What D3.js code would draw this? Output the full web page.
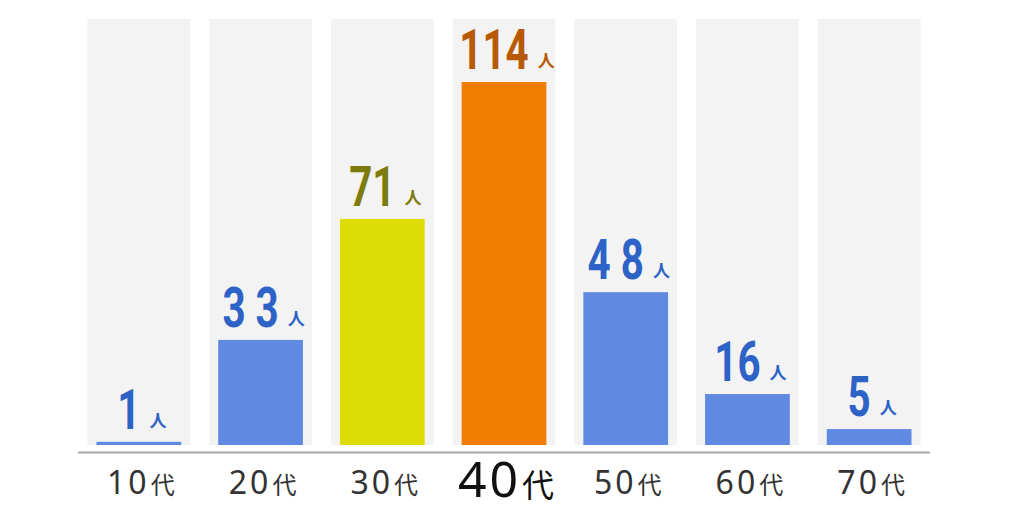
<!DOCTYPE html>
<html>
  <head>
    <meta charset="utf-8">
    <title>年代別</title>
    <style>
      body { margin: 0; background: #fff; }
    </style>
  </head>
  <body>
    <div id="container"></div>
    <script src="https://cdn.jsdelivr.net/npm/d3@7"></script>
    <script>

      // DATA
      var ages = ["10", "20", "30", "40", "50", "60", "70"];
      var counts = [1, 33, 71, 114, 48, 16, 5];

      var barColor = { "30": "#dcdc06", "40": "#f07d00" };
      var textColor = { "30": "#7d7b0c", "40": "#b85a05" };

      var width = 1024, height = 512;
      var baseY = 445;

      var svg = d3.select("#container")
        .append("svg")
        .attr("width", width)
        .attr("height", height);

      // SCALES
      var x = d3.scaleBand()
        .domain(ages)
        .range([78, 930])
        .paddingInner(0.156)
        .paddingOuter(0.078);

      var y = d3.scaleLinear()
        .domain([0, 114])
        .range([baseY, 82]);

      var data = ages.map((a, i) => ({ age: a, n: counts[i] }));

      // GRAY BACKGROUND COLUMNS
      svg.selectAll(".col")
        .data(data)
        .enter()
        .append("rect")
        .attr("x", d => x(d.age))
        .attr("y", 19)
        .attr("width", x.bandwidth())
        .attr("height", baseY - 19)
        .attr("fill", "#f3f3f3");

      // BARS
      var inset = 9;
      svg.selectAll(".bar")
        .data(data)
        .enter()
        .append("rect")
        .attr("x", d => x(d.age) + inset)
        .attr("y", d => y(d.n))
        .attr("width", x.bandwidth() - inset * 2)
        .attr("height", d => baseY - y(d.n))
        .attr("fill", d => barColor[d.age] || "#6089e2");

      // VALUE LABELS (condensed digits + small 人)
      var sx = 0.72, gap = 9;
      data.forEach(d => {
        // the "1" glyph has wide side bearings, so tighten those numbers
        var ls = String(d.n).indexOf("1") >= 0 ? 0 : 14;
        var cx = x(d.age) + x.bandwidth() / 2 + 3;
        var ty = y(d.n) - 13;
        var col = textColor[d.age] || "#2d62c6";
        var g = svg.append("g");
        var num = g.append("text")
          .attr("fill", col)
          .style("font-family", "Roboto, sans-serif")
          .style("font-weight", "bold")
          .style("font-size", "56px")
          .style("letter-spacing", ls + "px")
          .text(d.n);
        var unit = g.append("text")
          .attr("fill", col)
          .style("font-family", "'Noto Sans CJK JP', sans-serif")
          .style("font-weight", "bold")
          .style("font-size", "17px")
          .text("人");
        var nw = (num.node().getComputedTextLength() - ls) * sx;
        var uw = unit.node().getComputedTextLength();
        var left = cx - (nw + gap + uw) / 2;
        num.attr("transform", "translate(" + left + "," + ty + ") scale(" + sx + ",1)");
        unit.attr("x", left + nw + gap).attr("y", ty - 2);
      });

      // BASELINE
      svg.append("line")
        .attr("x1", x.range()[0])
        .attr("x2", x.range()[1])
        .attr("y1", 452.5)
        .attr("y2", 452.5)
        .attr("stroke", "#aaaaaa")
        .attr("stroke-width", 2);

      // CATEGORY LABELS
      var cats = svg.selectAll(".cat")
        .data(data)
        .enter()
        .append("text")
        .attr("x", d => x(d.age) + x.bandwidth() / 2 + 2)
        .attr("y", d => d.age === "40" ? 497 : 494)
        .attr("text-anchor", "middle")
        .attr("fill", d => d.age === "40" ? "#111" : "#333")
        .style("font-family", "'Noto Sans', 'Noto Sans CJK JP', sans-serif");
      cats.append("tspan")
        .style("font-size", d => d.age === "40" ? "50px" : "32px")
        .style("letter-spacing", "3px")
        .text(d => d.age);
      cats.append("tspan")
        .attr("dx", 1)
        .style("font-family", "'Noto Sans CJK JP', sans-serif")
        .style("font-size", d => d.age === "40" ? "32px" : "24px")
        .text("代");

    </script>
  </body>
</html>
